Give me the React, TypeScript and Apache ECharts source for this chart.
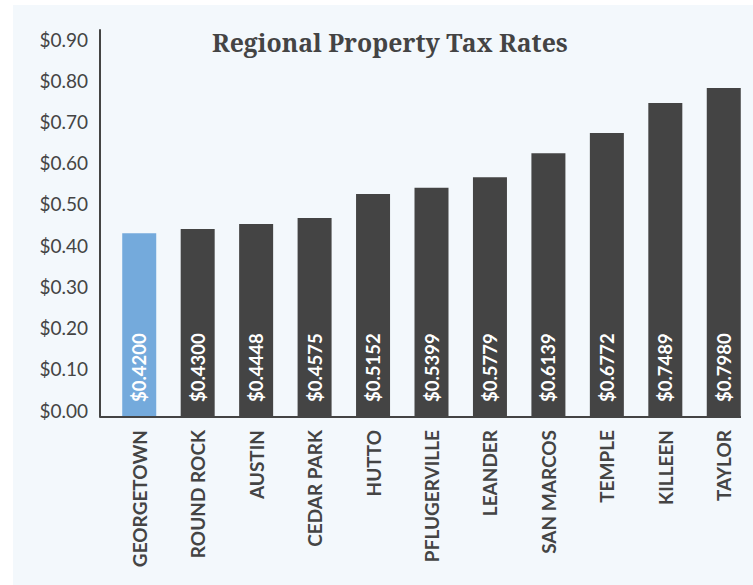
import React, { useEffect, useRef } from "react";
import * as echarts from "echarts";

const cities = [
  "GEORGETOWN",
  "ROUND ROCK",
  "AUSTIN",
  "CEDAR PARK",
  "HUTTO",
  "PFLUGERVILLE",
  "LEANDER",
  "SAN MARCOS",
  "TEMPLE",
  "KILLEEN",
  "TAYLOR",
];
const rateLabels = [
  "$0.4200",
  "$0.4300",
  "$0.4448",
  "$0.4575",
  "$0.5152",
  "$0.5399",
  "$0.5779",
  "$0.6139",
  "$0.6772",
  "$0.7489",
  "$0.7980",
];
const barValues = [0.446, 0.456, 0.468, 0.483, 0.541, 0.556, 0.582, 0.64, 0.689, 0.762, 0.798];
const highlightIndex = 0;
const title = "Regional Property Tax Rates";

export default function App() {
  const ref = useRef<HTMLDivElement>(null);
  useEffect(() => {
    if (!ref.current) return;
    const chart = echarts.init(ref.current, null, { renderer: "svg" });
    chart.setOption({
      animation: false,
      backgroundColor: "transparent",
      title: {
        text: title,
        left: 212,
        top: 29,
        padding: 0,
        textStyle: {
          fontFamily: "'Noto Serif', 'DejaVu Serif', serif",
          fontWeight: "bold",
          fontSize: 24.8,
          color: "#444444",
        },
      },
      grid: { left: 110, right: 0, top: 30, bottom: 168, containLabel: false },
      xAxis: {
        type: "category",
        data: cities,
        axisLine: { show: false },
        axisTick: { show: false },
        axisLabel: {
          rotate: 90,
          margin: 13,
          fontFamily: "Lato",
          fontWeight: "bold",
          fontSize: 19,
          color: "#444444",
          interval: 0,
        },
      },
      yAxis: {
        type: "value",
        min: 0,
        max: 0.939,
        interval: 0.1,
        offset: 10,
        splitLine: { show: false },
        axisTick: { show: false },
        axisLine: { show: true, lineStyle: { color: "#444444", width: 2 } },
        axisLabel: {
          showMaxLabel: false,
          margin: 12,
          fontFamily: "Lato",
          fontSize: 19,
          color: "#444444",
          verticalAlign: "bottom",
          lineHeight: 14,
          formatter: (v: number) => "$" + v.toFixed(2),
        },
      },
      series: [
        {
          type: "bar",
          barWidth: 34,
          data: barValues.map((v, i) => ({
            value: v,
            itemStyle: { color: i === highlightIndex ? "#74aadc" : "#444444" },
          })),
          label: {
            show: true,
            position: "insideBottom",
            rotate: 90,
            align: "left",
            verticalAlign: "middle",
            distance: 15,
            fontFamily: "Lato",
            fontWeight: "bold",
            fontSize: 18.5,
            color: "#ffffff",
            formatter: (p: any) => rateLabels[p.dataIndex],
          },
        },
      ],
      graphic: [
        {
          type: "line",
          shape: { x1: 100, y1: 417, x2: 741, y2: 417 },
          style: { stroke: "#444444", lineWidth: 2 },
          z: 10,
        },
      ],
    });
    return () => chart.dispose();
  }, []);
  return (
    <div style={{ position: "fixed", left: 0, top: 0, width: 753, height: 585, background: "#ffffff" }}>
      <div style={{ position: "absolute", left: 13, top: 5, width: 740, height: 580, background: "#f3f8fc" }} />
      <div ref={ref} style={{ position: "absolute", left: 0, top: 0, width: 753, height: 585 }} />
    </div>
  );
}
